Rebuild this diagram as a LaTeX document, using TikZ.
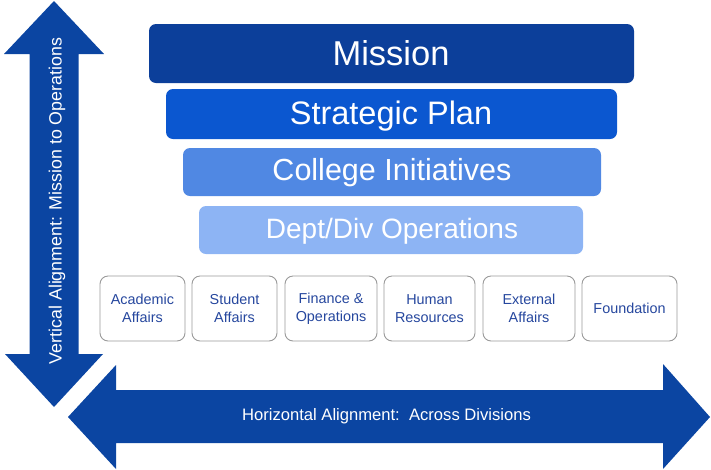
\documentclass[tikz,border=0pt]{standalone}
\usepackage{fontspec}
\setmainfont{Liberation Sans}
\definecolor{arrowblue}{HTML}{0B45A2}
\definecolor{tierA}{HTML}{0C3F9A}
\definecolor{tierB}{HTML}{0B57D0}
\definecolor{tierC}{HTML}{5088E3}
\definecolor{tierD}{HTML}{8DB4F4}
\definecolor{divtext}{HTML}{26479E}
\definecolor{divedge}{HTML}{9A9A9A}
\begin{document}
\begin{tikzpicture}[x=1pt,y=-1pt,
  tiertext/.style={text=white, inner sep=0pt},
  divbox/.style={draw=divedge, line width=0.9pt, fill=white, rounded corners=8pt},
  divlabel/.style={text=divtext, align=center, font=\fontsize{14.4}{18}\selectfont, inner sep=0pt},
  arrowtext/.style={text=white, inner sep=0pt}]
\useasboundingbox (0,0) rectangle (711,469);

% vertical double arrow
\fill[arrowblue] (54,1) -- (104,54) -- (78.5,54) -- (78.5,354) -- (103,354)
  -- (54,407) -- (5,354) -- (29.5,354) -- (29.5,54) -- (4,54) -- cycle;
\node[arrowtext, rotate=90, font=\fontsize{17.8}{20}\selectfont] (vtext) at (57,201)
  {Vertical Alignment: Mission to Operations};

% horizontal double arrow
\fill[arrowblue] (68,417) -- (116,365) -- (116,390) -- (663,390) -- (663,364)
  -- (710,417) -- (663,469) -- (663,443) -- (116,443) -- (116,469) -- cycle;
\node[arrowtext, font=\fontsize{16.6}{19}\selectfont] (htext) at (386.5,416)
  {Horizontal Alignment:\ \ Across Divisions};

% stacked tiers
\fill[tierA, rounded corners=7pt] (149,24) rectangle (634,83);
\node[tiertext, font=\fontsize{34.5}{38}\selectfont] (mission) at (391,53.5) {Mission};
\fill[tierB, rounded corners=7pt] (166,89) rectangle (617,139);
\node[tiertext, font=\fontsize{32.5}{36}\selectfont] (plan) at (391,116) {Strategic Plan};
\fill[tierC, rounded corners=7pt] (183,148) rectangle (601,196);
\node[tiertext, font=\fontsize{30.5}{34}\selectfont] (init) at (392,173) {College Initiatives};
\fill[tierD, rounded corners=7pt] (199,206) rectangle (583,254);
\node[tiertext, font=\fontsize{28}{31}\selectfont] (ops) at (392,231) {Dept/Div Operations};

% divisions
\draw[divbox] (100,276) rectangle (185,341);
\node[divlabel] (acad) at (142.5,308.5) {Academic\\Affairs};
\draw[divbox] (192,276) rectangle (277,341);
\node[divlabel] (stud) at (234.5,308.5) {Student\\Affairs};
\draw[divbox] (285,276) rectangle (377,341);
\node[divlabel] (fin) at (331,308.5) {Finance \&\\Operations};
\draw[divbox] (384,276) rectangle (475,341);
\node[divlabel] (hr) at (429.5,308.5) {Human\\Resources};
\draw[divbox] (483,276) rectangle (575,341);
\node[divlabel] (ext) at (529,308.5) {External\\Affairs};
\draw[divbox] (582,276) rectangle (677,341);
\node[divlabel] (found) at (629.5,308.5) {Foundation};
\end{tikzpicture}
\end{document}
